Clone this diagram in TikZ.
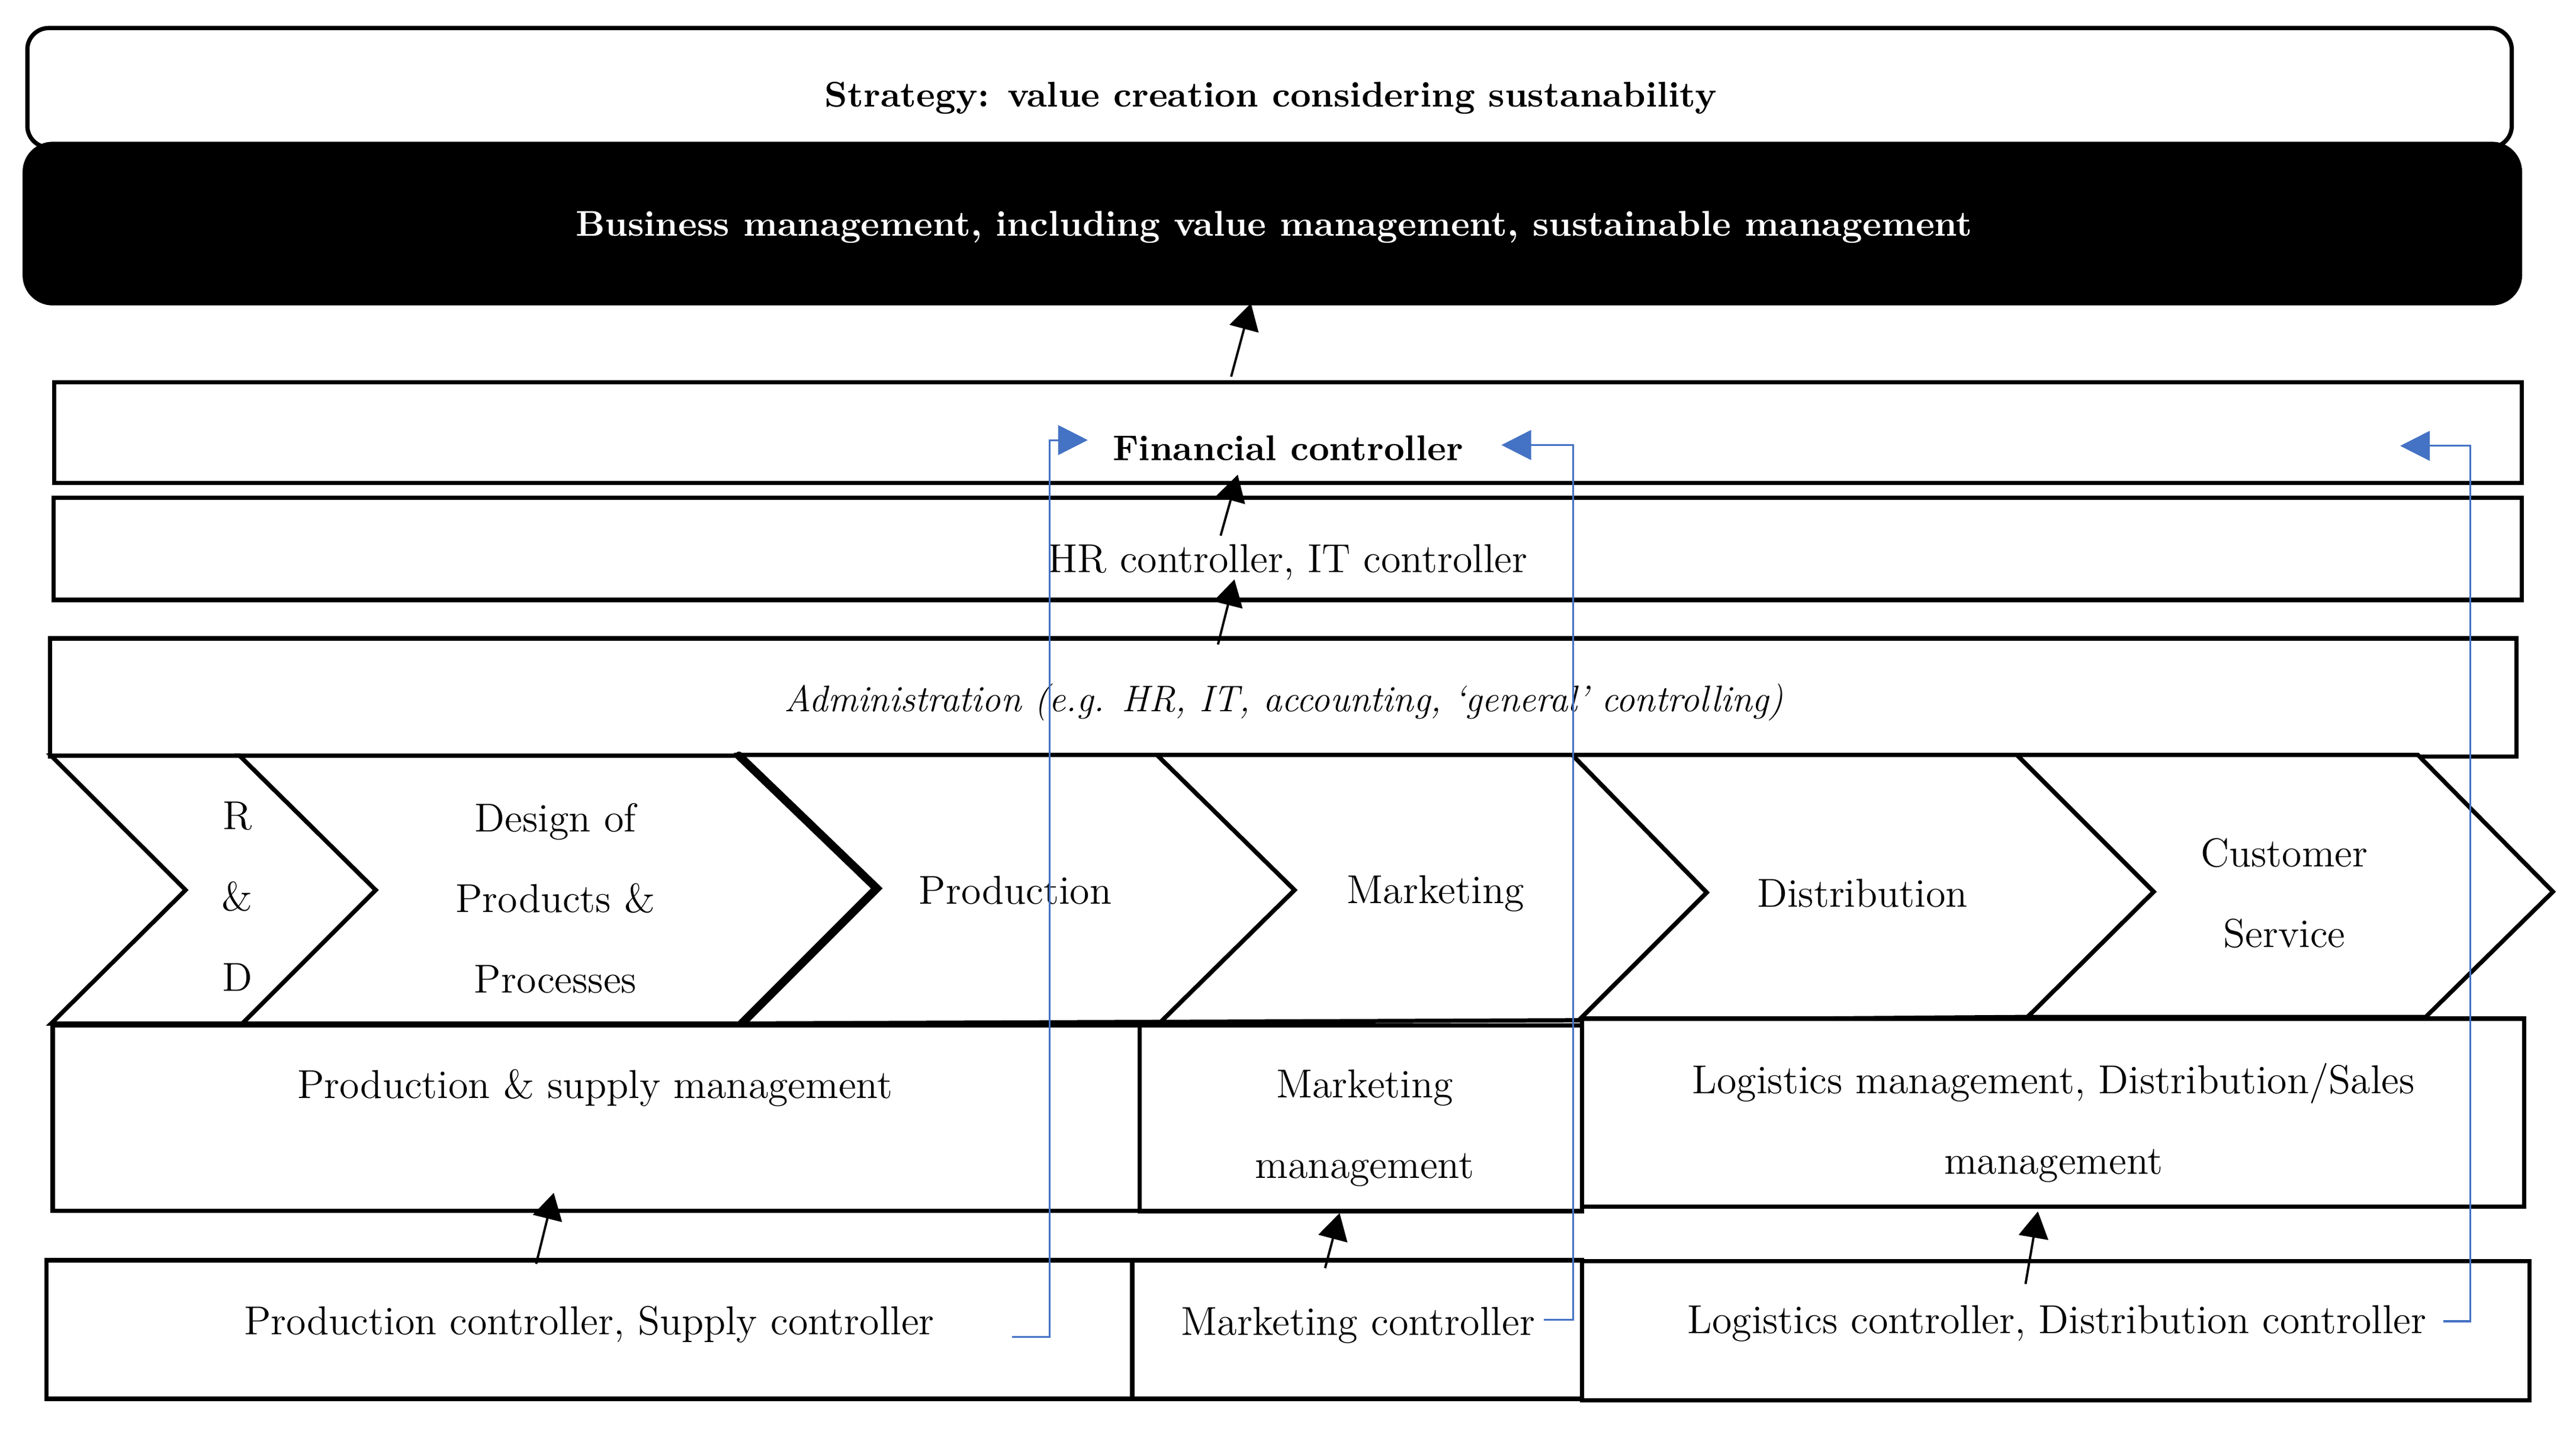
\documentclass[tikz,border=0pt]{standalone}
\usetikzlibrary{arrows.meta,fit}
\definecolor{linkblue}{HTML}{4472C4}
\begin{document}
\begin{tikzpicture}[x=0.5pt,y=-0.5pt,
  box/.style={draw=black,line width=1.3pt,fill=white,inner sep=0pt},
  rbox/.style={box,rounded corners=6.5pt},
  chev/.style={draw=black,line width=1.3pt,fill=white,line join=miter},
  txt/.style={font=\fontsize{12.25}{24.5}\selectfont,align=center,inner sep=0pt},
  itxt/.style={txt,font=\fontsize{11.25}{24.5}\selectfont\itshape},
  btxt/.style={font=\fontsize{10.85}{20}\selectfont\bfseries,inner sep=0pt},
  uparrow/.style={draw=black,line width=0.7pt,-{Triangle[length=8pt,width=9pt]}},
  link/.style={draw=linkblue,line width=0.55pt,-{Triangle[length=9pt,width=9pt]}}]
\useasboundingbox[fill=white] (0,0) rectangle (1563,868.5);

% top boxes
\node[rbox,fit={(16.6,17) (1524,89.4)}] (strategy) {};
\node[rbox,fill=black,rounded corners=8.5pt,fit={(15,87.3) (1529,184)}] (business) {};
\node[box,fit={(32.8,232) (1530,293)}] (fin) {};
\node[box,fit={(32.5,302) (1530,364)}] (hr) {};
\node[box,fit={(30.3,387.3) (1527,459)}] (admin) {};

% value chain chevrons
\draw[chev] (31,458.5) -- (145.4,458.5) -- (228,540) -- (147,621) -- (31,621) -- (112.6,540) -- cycle;
\draw[chev] (145.4,458.5) -- (448.4,458.5) -- (532,539) -- (450,621) -- (147,621) -- (228,540) -- cycle;
\draw[chev] (448.4,458) -- (702,458) -- (785.5,540) -- (704.3,620) -- (450,621) -- (532,539) -- cycle;
\draw[chev] (702,458) -- (954,458) -- (1035.6,541.5) -- (958,619) -- (704.3,620) -- (785.5,540) -- cycle;
\draw[chev] (954,458) -- (1223.8,458) -- (1306.8,541) -- (1230.3,617) -- (958,619) -- (1035.6,541.5) -- cycle;
\draw[chev] (1223.8,458) -- (1467,458) -- (1549,541) -- (1471.8,617) -- (1230.3,617) -- (1306.8,541) -- cycle;
\draw[line width=2.5pt,line cap=round] (448.4,458.5) -- (532,539) -- (450,621);

% management boxes
\node[box,fit={(32,622) (691.5,734.5)}] (prodmgmt) {};
\node[box,fit={(691.5,622) (960,734.8)}] (mktmgmt) {};
\node[box,fit={(960,618) (1531.5,732)}] (logmgmt) {};

% controller boxes
\node[box,fit={(28.3,764.6) (687,848.7)}] (prodctrl) {};
\node[box,fit={(687,764.6) (960,848.7)}] (mktctrl) {};
\node[box,fit={(960,765) (1534.7,849.7)}] (logctrl) {};

% texts
\node[btxt] (strategytxt) at (771,59.6) {Strategy: value creation considering sustanability};
\node[btxt,text=white] (businesstxt) at (773,137.7) {Business management, including value management, sustainable management};
\node[btxt] (fintxt) at (781.5,272) {Financial controller};
\node[txt] (hrtxt) at (781.3,341) {HR controller, IT controller};
\node[itxt] (admintxt) at (779,426) {Administration (e.g. HR, IT, accounting, `general' controlling)};
\node[txt] (rdtxt) at (144,544) {R\\\&\\D};
\node[txt] (designtxt) at (337,545) {Design of\\Products \&\\Processes};
\node[txt] (productiontxt) at (616,540) {Production};
\node[txt] (marketingtxt) at (871,542) {Marketing};
\node[txt] (distributiontxt) at (1130,542) {Distribution};
\node[txt] (customertxt) at (1386,542) {Customer\\Service};
\node[txt] (prodmgmttxt) at (361,660) {Production \& supply management};
\node[txt] (mktmgmttxt) at (828,684.5) {Marketing\\management};
\node[txt] (logmgmttxt) at (1246,681.3) {Logistics management, Distribution/Sales\\management};
\node[txt] (prodctrltxt) at (357.5,803.5) {Production controller, Supply controller};
\node[txt] (mktctrltxt) at (824,804) {Marketing controller};
\node[txt] (logctrltxt) at (1248,803) {Logistics controller, Distribution controller};

% black arrows
\coordinate (a1s) at (747,228.5);   \coordinate (a1e) at (759,184);
\coordinate (a2s) at (740.6,325);   \coordinate (a2e) at (751,288);
\coordinate (a3s) at (739,391);     \coordinate (a3e) at (749,351.5);
\coordinate (a4s) at (325.3,766.8); \coordinate (a4e) at (336,723.7);
\coordinate (a5s) at (804,769.4);   \coordinate (a5e) at (812.8,736);
\coordinate (a6s) at (1229,779);    \coordinate (a6e) at (1236.5,735);
\draw[uparrow] (a1s) -- (a1e);
\draw[uparrow] (a2s) -- (a2e);
\draw[uparrow] (a3s) -- (a3e);
\draw[uparrow] (a4s) -- (a4e);
\draw[uparrow] (a5s) -- (a5e);
\draw[uparrow] (a6s) -- (a6e);

% blue links to the financial controller
\coordinate (b1s) at (614,811);     \coordinate (b1e) at (660,267);
\coordinate (b2s) at (936.8,800.8); \coordinate (b2e) at (911,270);
\coordinate (b3s) at (1482.4,801.6);\coordinate (b3e) at (1456.3,270.5);
\draw[link] (b1s) -- (636.8,811) -- (636.8,267) -- (b1e);
\draw[link] (b2s) -- (954.5,800.8) -- (954.5,270) -- (b2e);
\draw[link] (b3s) -- (1499,801.6) -- (1499,270.5) -- (b3e);
\end{tikzpicture}
\end{document}
